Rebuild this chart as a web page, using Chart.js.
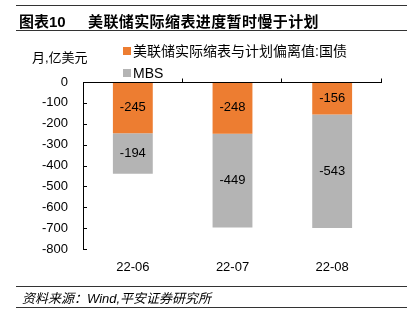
<!DOCTYPE html>
<html>
<head>
<meta charset="utf-8">
<script src="https://cdn.jsdelivr.net/npm/chart.js@4.4.0/dist/chart.umd.min.js"></script>
<style>
  html, body { margin: 0; padding: 0; background: #fff; }
  body { width: 420px; height: 323px; position: relative; overflow: hidden;
         font-family: "Liberation Sans", "Noto Sans CJK SC", sans-serif; color: #000; }
  .rule { position: absolute; left: 16px; width: 391px; height: 0; border-top: 1.5px solid #333; }
  #title { position: absolute; left: 19px; top: 10px; font-size: 15px; font-weight: bold; white-space: pre; }
  #title span { position: absolute; left: 69px; top: 0; letter-spacing: 0.4px; }
  #unit { position: absolute; left: 32px; top: 47px; font-size: 13px; }
  #source { position: absolute; left: 22px; top: 288px; font-size: 13px; font-style: italic; }
  #wrap { position: absolute; left: 0; top: 0; width: 420px; height: 323px; }
</style>
</head>
<body>
<div id="wrap"><canvas id="chart" width="420" height="323"></canvas></div>
<div class="rule" style="top:5px"></div>
<div id="title">图表10<span>美联储实际缩表进度暂时慢于计划</span></div>
<div class="rule" style="top:30px"></div>
<div id="unit">月,亿美元</div>
<div class="rule" style="top:286px"></div>
<div id="source">资料来源：Wind,平安证券研究所</div>
<div class="rule" style="top:307px"></div>

<script>
// monthly data, 亿美元
const months = ['22-06', '22-07', '22-08'];
const treasuryGap = [-245, -248, -156];
const mbsGap = [-194, -449, -543];
const seriesNames = ['美联储实际缩表与计划偏离值:国债', 'MBS'];
const seriesColors = ['#ED7D31', '#B4B4B4'];
const yTicks = [0, -100, -200, -300, -400, -500, -600, -700, -800];

const FONT = '"Liberation Sans", "Noto Sans CJK SC", sans-serif';

// zero axis line with inward ticks, y axis line, value labels and legend
const decorations = {
  id: 'decorations',
  afterDatasetsDraw(chart) {
    const ctx = chart.ctx;
    const y = chart.scales.y;
    const zero = y.getPixelForValue(0);
    const left = chart.chartArea.left;
    const right = chart.chartArea.right;
    const bottom = chart.chartArea.bottom;

    ctx.save();
    ctx.strokeStyle = '#000';
    ctx.lineWidth = 1;
    ctx.beginPath();
    // y axis
    ctx.moveTo(left + 0.5, zero);
    ctx.lineTo(left + 0.5, bottom);
    yTicks.forEach(v => {
      const py = Math.round(y.getPixelForValue(v)) + 0.5;
      ctx.moveTo(left, py);
      ctx.lineTo(left + 4, py);
    });
    // zero line with category boundary ticks
    const zy = Math.round(zero) + 0.5;
    ctx.moveTo(left, zy);
    ctx.lineTo(right, zy);
    const step = (right - left) / months.length;
    for (let i = 1; i <= months.length; i++) {
      const px = Math.round(left + step * i) - 0.5;
      ctx.moveTo(px, zy);
      ctx.lineTo(px, zy - 4);
    }
    ctx.stroke();

    // values inside each segment
    ctx.fillStyle = '#000';
    ctx.font = '13px ' + FONT;
    ctx.textAlign = 'center';
    ctx.textBaseline = 'middle';
    chart.data.datasets.forEach((ds, di) => {
      chart.getDatasetMeta(di).data.forEach((bar, i) => {
        const p = bar.getProps(['x', 'y', 'base'], true);
        ctx.fillText(String(ds.data[i]), p.x, (p.y + p.base) / 2);
      });
    });

    // legend, stacked in two rows
    ctx.textAlign = 'left';
    ctx.font = '14px ' + FONT;
    seriesNames.forEach((name, i) => {
      const ly = 51 + i * 22;
      ctx.fillStyle = seriesColors[i];
      ctx.fillRect(123, ly - 4, 8, 8);
      ctx.fillStyle = '#000';
      ctx.fillText(name, 133, ly + 1);
    });
    ctx.restore();
  }
};

new Chart(document.getElementById('chart'), {
  type: 'bar',
  data: {
    labels: months,
    datasets: [
      { label: seriesNames[0], data: treasuryGap, backgroundColor: seriesColors[0] },
      { label: seriesNames[1], data: mbsGap, backgroundColor: seriesColors[1] }
    ]
  },
  options: {
    responsive: false,
    animation: false,
    layout: { padding: { top: 82, right: 38, left: 0, bottom: 0 } },
    datasets: { bar: { barPercentage: 0.4, categoryPercentage: 1 } },
    plugins: { legend: { display: false }, tooltip: { enabled: false } },
    scales: {
      x: {
        stacked: true,
        grid: { display: false, drawTicks: false },
        border: { display: false },
        ticks: { color: '#000', font: { size: 13, family: FONT }, padding: 11 },
        afterFit(scale) { scale.height = 74; }
      },
      y: {
        stacked: true,
        min: -800,
        max: 0,
        grid: { display: false, drawTicks: false },
        border: { display: false },
        afterBuildTicks(scale) { scale.ticks = yTicks.map(v => ({ value: v })); },
        ticks: { color: '#000', font: { size: 13, family: FONT }, padding: 15 },
        afterFit(scale) { scale.width = 83; }
      }
    }
  },
  plugins: [decorations]
});
</script>
</body>
</html>
